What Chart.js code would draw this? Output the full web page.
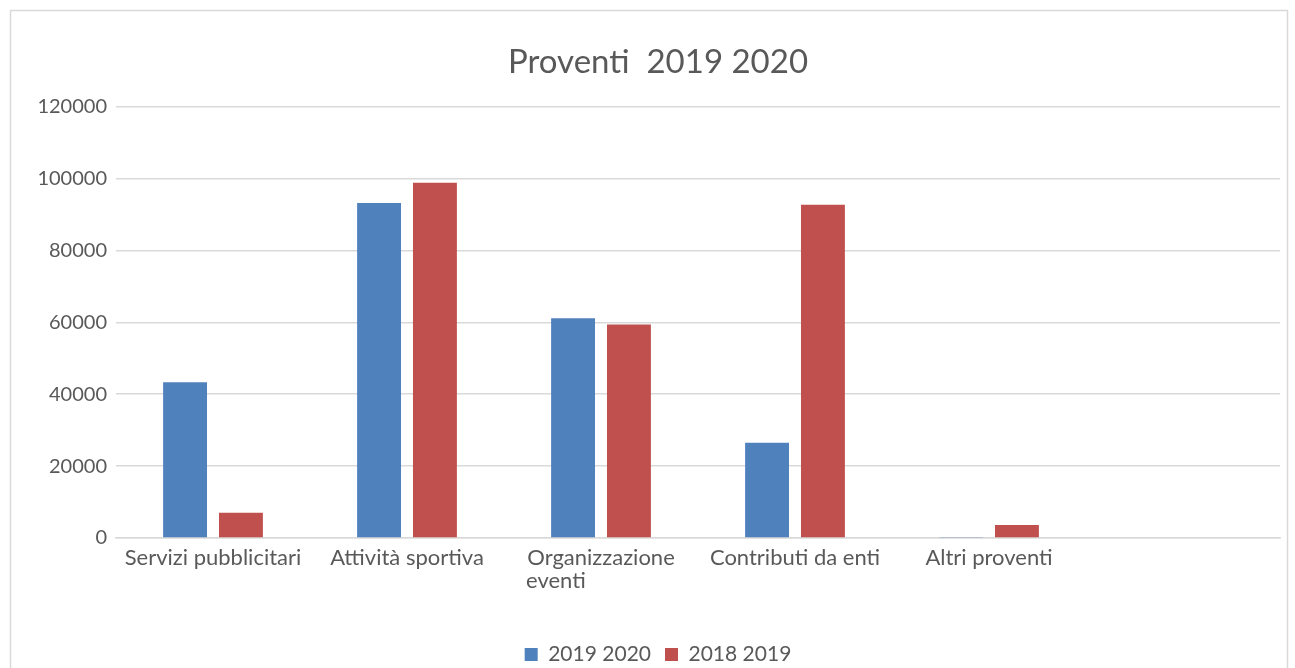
<!DOCTYPE html>
<html>
<head>
<meta charset="utf-8">
<script src="https://cdn.jsdelivr.net/npm/chart.js@4/dist/chart.umd.min.js"></script>
<style>
  html, body { margin: 0; padding: 0; background: #ffffff; }
  #wrap { width: 1295px; height: 668px; position: relative; }
</style>
</head>
<body>
<div id="wrap"><canvas id="c" width="1295" height="668"></canvas></div>
<script>
const categories = [
  ['Servizi pubblicitari'],
  ['Attività sportiva'],
  ['Organizzazione', 'eventi'],
  ['Contributi da enti'],
  ['Altri proventi'],
  ['']
];
const series2019_2020 = [43300, 93200, 61100, 26500, 300, null];
const series2018_2019 = [7000, 98800, 59400, 92700, 3600, null];
const yTicks = [0, 20000, 40000, 60000, 80000, 100000, 120000];

const FONT = 'Lato, "Open Sans", sans-serif';
const TXT = '#595959';
const XFONT = 22;

// pad following lines so multi-line labels appear left-aligned
const measureCtx = document.createElement('canvas').getContext('2d');
measureCtx.font = XFONT + 'px ' + FONT;
function leftAlignLines(lines) {
  if (lines.length < 2) return lines;
  const w0 = measureCtx.measureText(lines[0]).width;
  const sp = measureCtx.measureText(' ').width;
  return lines.map((l, i) => {
    if (i === 0) return l;
    const diff = w0 - measureCtx.measureText(l).width;
    const n = Math.max(0, Math.round(diff / sp));
    return l + ' '.repeat(n);
  });
}

const borderPlugin = {
  id: 'frame',
  beforeDraw(chart) {
    const ctx = chart.ctx;
    ctx.save();
    ctx.fillStyle = '#ffffff';
    ctx.fillRect(0, 0, chart.width, chart.height);
    ctx.strokeStyle = '#d9d9d9';
    ctx.lineWidth = 1.5;
    ctx.strokeRect(10.5, 10.5, 1277, 700);
    ctx.restore();
  }
};

new Chart(document.getElementById('c'), {
  type: 'bar',
  data: {
    labels: categories,
    datasets: [
      { label: '2019 2020', data: series2019_2020, backgroundColor: '#4f81bd',
        categoryPercentage: 0.576, barPercentage: 0.786 },
      { label: '2018 2019', data: series2018_2019, backgroundColor: '#c0504d',
        categoryPercentage: 0.576, barPercentage: 0.786 }
    ]
  },
  options: {
    responsive: false,
    animation: false,
    devicePixelRatio: 1,
    layout: { padding: { left: 36, right: 15, top: 12, bottom: -7 } },
    plugins: {
      title: {
        display: true,
        text: 'Proventi  2019 2020',
        color: TXT,
        font: { family: FONT, size: 33, weight: 'normal' },
        padding: { top: 31, bottom: 24 }
      },
      legend: {
        position: 'bottom',
        labels: {
          color: TXT,
          font: { family: FONT, size: 21 },
          boxWidth: 13,
          boxHeight: 13,
          padding: 14
        }
      },
      tooltip: { enabled: false }
    },
    scales: {
      x: {
        grid: { display: false, drawTicks: false },
        border: { display: true, color: '#d9d9d9', width: 1.5 },
        ticks: {
          color: TXT,
          font: { family: FONT, size: XFONT, lineHeight: 1.05 },
          padding: 8,
          maxRotation: 0,
          autoSkip: false,
          callback: function(v, i) { return leftAlignLines(categories[i]); }
        },
        afterFit(scale) { scale.height = 92; }
      },
      y: {
        min: 0,
        max: 120000,
        afterBuildTicks(scale) { scale.ticks = yTicks.map(v => ({ value: v })); },
        grid: { color: '#d9d9d9', lineWidth: 1.5, drawTicks: false },
        border: { display: false },
        ticks: {
          color: TXT,
          font: { family: FONT, size: 20 },
          padding: 9,
          callback: v => String(v)
        },
        afterFit(scale) { scale.width = 80; }
      }
    }
  },
  plugins: [borderPlugin]
});
</script>
</body>
</html>
